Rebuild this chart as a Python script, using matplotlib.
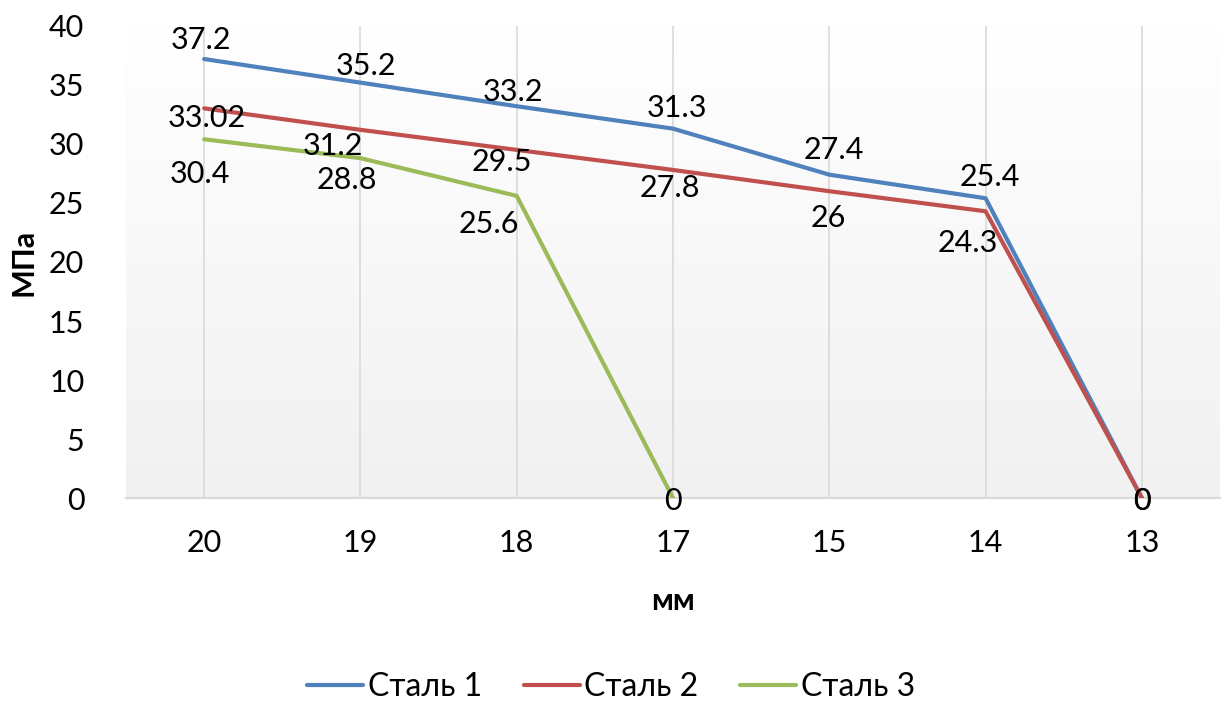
import numpy as np
import matplotlib
matplotlib.use('Agg')
import matplotlib.pyplot as plt

plt.rcParams['font.family'] = ['Lato', 'DejaVu Sans']

# thickness, mm
categories = ['20', '19', '18', '17', '15', '14', '13']
# strength, MPa
steel1 = [37.2, 35.2, 33.2, 31.3, 27.4, 25.4, 0]
steel2 = [33.02, 31.2, 29.5, 27.8, 26, 24.3, 0]
steel3 = [30.4, 28.8, 25.6, 0]
series_names = ['Сталь 1', 'Сталь 2', 'Сталь 3']

colors = ['#4F81BD', '#C0504D', '#9BBB59']
# label offsets in points (dx, dy), per series
offsets = [
    [(-2, 14), (4, 12), (-3, 10), (3, 15), (3, 18), (3, 15), (0, -2)],
    [(2, -7), (-20, -12), (-11, -9), (-2, -13), (-1, -19), (-13, -23), (0, -2)],
    [(-3, -25), (-10, -16), (-20, -20), (0, -2)],
]
fs = 22

fig = plt.figure(figsize=(12.27, 7.06), dpi=100)
ax = fig.add_axes([0.1027, 0.2946, 0.8916, 0.6686])

# soft vertical gradient in the plot area
grad = np.linspace(1.0, 0.0, 256).reshape(-1, 1)
ax.imshow(grad, extent=[-0.5, 6.5, 0, 40], aspect='auto', zorder=0,
          cmap=matplotlib.colors.LinearSegmentedColormap.from_list('g', ['#F1F1F1', '#FFFFFF']),
          vmin=0, vmax=1)

x = np.arange(len(categories))
for vals, name, col, offs in zip([steel1, steel2, steel3], series_names, colors, offsets):
    xs = x[:len(vals)]
    ax.plot(xs, vals, color=col, lw=3.0, label=name, zorder=3, solid_capstyle='round')
    for xi, v, (dx, dy) in zip(xs, vals, offs):
        ax.annotate(f'{v:g}', (xi, v), xytext=(dx, dy), textcoords='offset points',
                    ha='center', va='center', fontsize=fs, zorder=4)

for xi in x:
    ax.axvline(xi, color='#D9D9D9', lw=1.2, zorder=1)

ax.set_xlim(-0.5, 6.5)
ax.set_ylim(0, 40)
ax.set_yticks(np.arange(0, 41, 5))
ax.set_xticks(x)
ax.set_xticklabels(categories)
ax.tick_params(axis='both', length=0, labelsize=fs)
ax.tick_params(axis='x', pad=22)
ax.tick_params(axis='y', pad=30)
for s in ['top', 'right', 'left']:
    ax.spines[s].set_visible(False)
ax.spines['bottom'].set_color('#D9D9D9')
ax.spines['bottom'].set_linewidth(1.5)
ax.spines['bottom'].set_zorder(2)

ax.set_xlabel('мм', fontsize=fs, fontweight='bold', labelpad=22)
ax.set_ylabel('МПа', fontsize=fs, fontweight='bold', labelpad=8)

fig.legend(loc='center', bbox_to_anchor=(0.498, 0.027), ncol=3, frameon=False,
           fontsize=23, handlelength=1.75, handletextpad=0.15, columnspacing=1.3)

fig.savefig('out.png', dpi=100)
